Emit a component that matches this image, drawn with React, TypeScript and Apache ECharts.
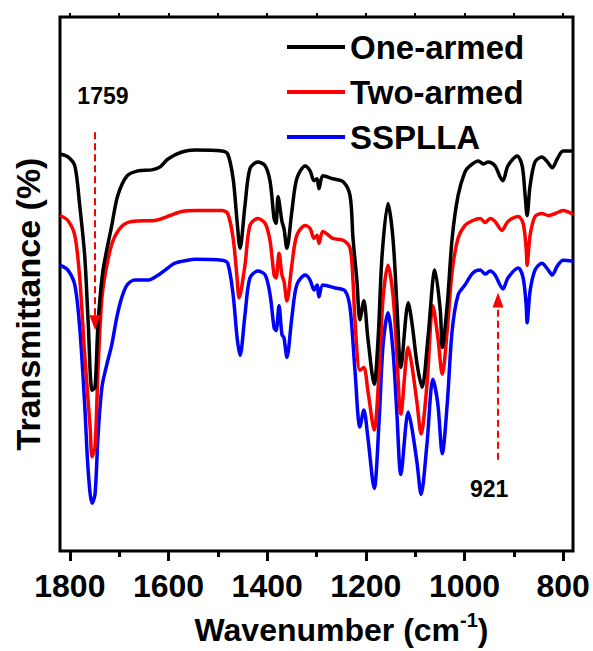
import React, { useEffect, useRef } from "react";
import * as echarts from "echarts";

// ---- Data (wavenumber in cm^-1, transmittance in arbitrary offset units) ----
const oneArmedWn = [1820, 1804, 1790, 1780, 1770, 1763, 1755, 1749, 1743, 1733, 1715, 1703, 1684, 1662, 1634, 1617, 1601, 1573, 1546, 1492, 1480, 1469, 1461, 1455, 1445, 1435, 1419, 1404, 1394, 1386, 1382, 1378, 1370, 1366, 1360, 1350, 1340, 1323, 1313, 1305, 1299, 1295, 1287, 1267, 1246, 1232, 1226, 1218, 1212, 1204, 1196, 1183, 1175, 1167, 1155, 1145, 1137, 1129, 1114, 1106, 1096, 1086, 1074, 1060, 1049, 1045, 1035, 1025, 1013, 999, 989, 972, 962, 952, 938, 928, 922, 912, 893, 883, 877, 873, 867, 857, 843, 832, 822, 812, 800, 780];
const oneArmedT = [400, 397, 388, 348, 298, 232, 162, 165, 228, 282, 328, 358, 378, 383, 384, 387, 395, 402, 404, 403, 400, 375, 332, 305, 348, 385, 392, 388, 372, 335, 330, 357, 332, 325, 305, 342, 375, 388, 383, 373, 375, 365, 378, 375, 372, 358, 315, 272, 233, 252, 215, 168, 215, 298, 350, 315, 248, 185, 250, 228, 188, 165, 215, 283, 242, 205, 248, 315, 358, 382, 388, 393, 390, 392, 388, 377, 373, 388, 398, 388, 358, 338, 368, 392, 397, 392, 386, 395, 403, 403];

const twoArmedWn = [1820, 1804, 1790, 1780, 1770, 1759, 1755, 1749, 1743, 1735, 1725, 1713, 1695, 1674, 1628, 1613, 1597, 1573, 1546, 1492, 1480, 1469, 1461, 1457, 1445, 1435, 1419, 1404, 1394, 1386, 1382, 1376, 1370, 1366, 1360, 1350, 1340, 1323, 1313, 1305, 1299, 1295, 1287, 1267, 1246, 1232, 1226, 1222, 1212, 1204, 1196, 1183, 1173, 1165, 1155, 1145, 1137, 1129, 1114, 1106, 1096, 1088, 1076, 1064, 1054, 1045, 1035, 1025, 1013, 999, 983, 968, 958, 948, 938, 924, 912, 891, 881, 875, 873, 867, 857, 843, 830, 816, 800, 780];
const twoArmedT = [338, 333, 318, 275, 198, 125, 95, 105, 182, 255, 288, 312, 327, 332, 333, 335, 338, 342, 343, 343, 340, 315, 275, 255, 288, 328, 335, 330, 312, 278, 275, 300, 278, 272, 252, 288, 318, 328, 325, 315, 318, 310, 322, 315, 313, 305, 272, 232, 182, 185, 162, 122, 182, 255, 288, 258, 198, 138, 205, 185, 148, 118, 168, 247, 215, 178, 222, 282, 315, 328, 333, 335, 331, 335, 332, 323, 332, 337, 330, 305, 288, 318, 337, 340, 338, 340, 343, 339];

const ssPllaWn = [1820, 1804, 1790, 1780, 1770, 1763, 1755, 1749, 1743, 1735, 1725, 1715, 1705, 1695, 1684, 1668, 1642, 1624, 1607, 1587, 1561, 1546, 1492, 1480, 1469, 1461, 1455, 1445, 1435, 1419, 1404, 1394, 1386, 1382, 1376, 1370, 1366, 1360, 1350, 1340, 1323, 1313, 1305, 1299, 1295, 1287, 1262, 1242, 1232, 1222, 1212, 1204, 1196, 1183, 1173, 1165, 1155, 1145, 1137, 1129, 1114, 1106, 1096, 1088, 1076, 1064, 1054, 1045, 1035, 1025, 1013, 999, 983, 968, 958, 948, 938, 928, 922, 912, 891, 881, 875, 873, 867, 857, 843, 830, 822, 812, 800, 780];
const ssPllaT = [288, 283, 268, 225, 148, 82, 48, 57, 115, 165, 188, 208, 235, 255, 268, 273, 273, 277, 283, 290, 293, 294, 293, 290, 258, 215, 197, 238, 275, 282, 278, 258, 225, 222, 247, 218, 215, 195, 235, 268, 278, 273, 263, 268, 256, 268, 265, 262, 245, 182, 125, 142, 115, 63, 132, 208, 240, 202, 138, 77, 140, 122, 88, 57, 108, 173, 148, 98, 148, 222, 258, 268, 280, 283, 279, 282, 278, 268, 264, 275, 285, 275, 248, 230, 262, 283, 290, 283, 278, 287, 293, 292];

const seriesNames = ["One-armed", "Two-armed", "SSPLLA"];
const seriesColors = ["#000000", "#ff0000", "#0000ff"];

const majorTicks = [800, 1000, 1200, 1400, 1600, 1800];
const minorTicks = [900, 1100, 1300, 1500, 1700];
const topTicks = [800, 900, 1000, 1100, 1200, 1300, 1400, 1500, 1600, 1700, 1800];

// annotations
const noteLabels = ["1759", "921"];
const noteX = [1733, 950];
const noteY = [458, 62];
const arrowX = [1749, 932];
const arrowFrom = [422, 92];
const arrowTo = [230, 253];

const zip = (xs: number[], ys: number[]) => xs.map((x, i) => [x, ys[i]]);

export default function App() {
  const ref = useRef<HTMLDivElement>(null);
  useEffect(() => {
    const chart = echarts.init(ref.current!, null, { renderer: "svg" });
    const font = "'Liberation Sans', Arial, Helvetica, sans-serif";
    const txt = { color: "#000", fontWeight: "bold" as const, fontFamily: font };
    const datasets = [zip(oneArmedWn, oneArmedT), zip(twoArmedWn, twoArmedT), zip(ssPllaWn, ssPllaT)];
    const series: any[] = datasets.map((d, i) => ({
      name: seriesNames[i],
      type: "line",
      data: d,
      symbol: "none",
      smooth: 0.3,
      xAxisIndex: 0,
      yAxisIndex: 0,
      lineStyle: { color: seriesColors[i], width: 3.5 },
      itemStyle: { color: seriesColors[i] },
      z: 3 - i,
    }));
    series[1].markLine = {
      silent: true,
      symbol: ["none", "triangle"],
      symbolSize: [11, 15],
      lineStyle: { color: "#ff0000", width: 2, type: [7, 4] },
      itemStyle: { color: "#ff0000" },
      label: { show: false },
      emphasis: { disabled: true },
      data: arrowX.map((x, i) => [
        { coord: [x, arrowFrom[i]] },
        { coord: [x, arrowTo[i]] },
      ]),
    };
    series[1].markPoint = {
      symbol: "circle",
      symbolSize: 0,
      silent: true,
      label: { show: true, position: "inside", fontSize: 23, ...txt, formatter: "{b}" },
      data: noteLabels.map((n, i) => ({ name: n, coord: [noteX[i], noteY[i]] })),
    };

    chart.setOption({
      animation: false,
      grid: {
        left: 60,
        right: 20,
        top: 17,
        bottom: 96,
        show: true,
        borderColor: "#000",
        borderWidth: 3,
        backgroundColor: "transparent",
      },
      legend: {
        data: seriesNames.map((n) => ({ name: n, icon: "rect" })),
        orient: "vertical",
        left: 287,
        top: 29,
        padding: 0,
        itemWidth: 58,
        itemHeight: 4,
        itemGap: 9,
        itemTextGap: 10,
        textStyle: { ...txt, fontSize: 33, lineHeight: 36 },
      },
      xAxis: [
        {
          type: "value",
          position: "bottom",
          min: 780,
          max: 1820,
          inverse: true,
          axisLine: { show: false },
          splitLine: { show: false },
          axisTick: { show: true, inside: false, length: 10, lineStyle: { color: "#000", width: 3 }, customValues: majorTicks },
          axisLabel: {
            show: true,
            customValues: majorTicks,
            margin: 19,
            fontSize: 32,
            ...txt,
            formatter: (v: number) => String(v),
          },
          name: "{a|Wavenumber (cm}{sup|-1}{a|)}",
          nameLocation: "middle",
          nameGap: 59,
          nameTextStyle: {
            ...txt,
            fontSize: 32,
            padding: [0, 0, 0, 50],
            rich: {
              a: { ...txt, fontSize: 32, lineHeight: 40, verticalAlign: "middle" },
              sup: { ...txt, fontSize: 20, lineHeight: 20, verticalAlign: "top" },
            },
          },
        },
        {
          type: "value",
          position: "bottom",
          min: 780,
          max: 1820,
          inverse: true,
          axisLine: { show: false },
          splitLine: { show: false },
          axisTick: { show: true, inside: false, length: 6, lineStyle: { color: "#000", width: 3 }, customValues: minorTicks },
          axisLabel: { show: false },
        },
        {
          type: "value",
          position: "top",
          min: 780,
          max: 1820,
          inverse: true,
          axisLine: { show: false },
          splitLine: { show: false },
          axisTick: { show: true, inside: false, length: 4, lineStyle: { color: "#000", width: 2 }, customValues: topTicks },
          axisLabel: { show: false },
        },
      ],
      yAxis: [
        {
          type: "value",
          min: 0,
          max: 538,
          axisLine: { show: false },
          axisTick: { show: false },
          axisLabel: { show: false },
          splitLine: { show: false },
          name: "Transmittance (%)",
          nameLocation: "middle",
          nameGap: 15,
          nameTextStyle: { ...txt, fontSize: 34, padding: [0, 40, 0, 0] },
        },
      ],
      series,
    });
    return () => chart.dispose();
  }, []);
  return (
    <div
      ref={ref}
      style={{ position: "fixed", left: 0, top: 0, width: 593, height: 651, background: "#fff" }}
    />
  );
}
